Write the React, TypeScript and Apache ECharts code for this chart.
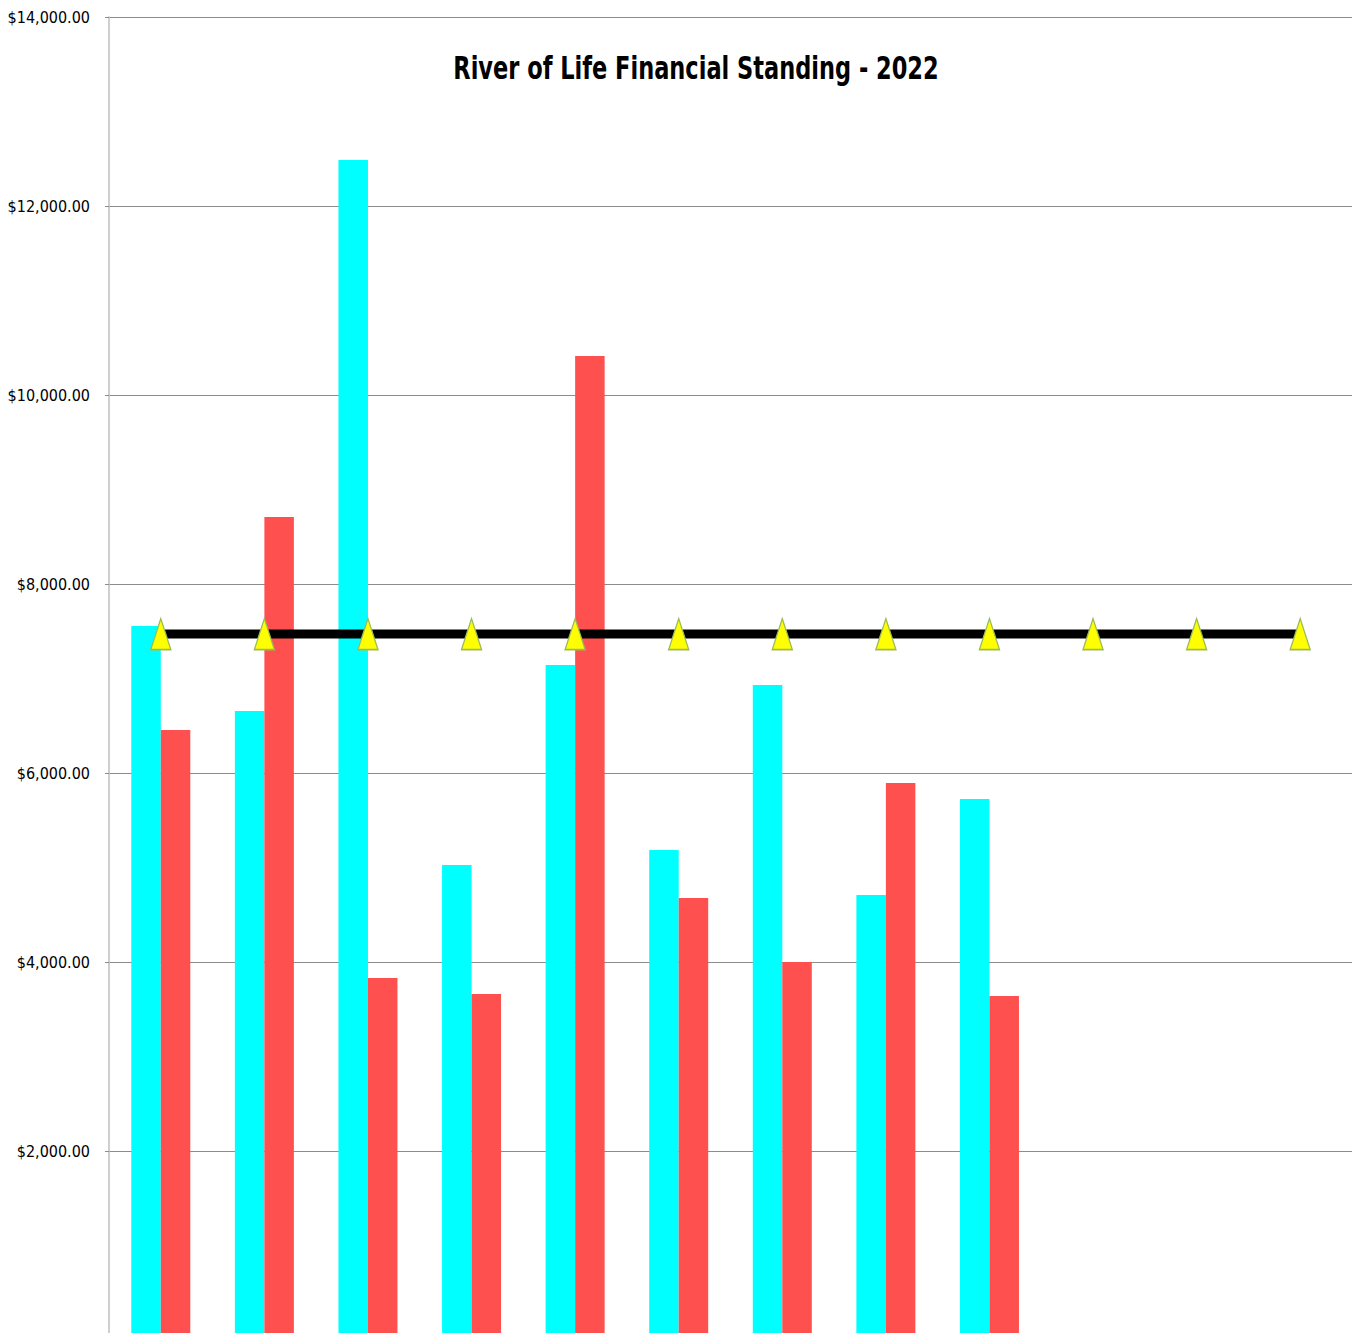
import React, { useEffect, useRef } from "react";
import * as echarts from "echarts";

const categories = ["Jan", "Feb", "Mar", "Apr", "May", "Jun", "Jul", "Aug", "Sep", "Oct", "Nov", "Dec"];
const incomeValues = [7555, 6656, 12487, 5026, 7143, 5185, 6931, 4709, 5725];
const expenseValues = [6455, 8709, 3831, 3661, 10413, 4677, 4000, 5894, 3640];
const budgetValues = [7470, 7470, 7470, 7470, 7470, 7470, 7470, 7470, 7470, 7470, 7470, 7470];
const titleText = "River of Life Financial Standing - 2022";

const FONT = '"DejaVu Sans Condensed", "Liberation Sans Narrow", "Liberation Sans", sans-serif';

export default function App() {
  const ref = useRef<HTMLDivElement>(null);
  useEffect(() => {
    if (!ref.current) return;
    const chart = echarts.init(ref.current, null, { renderer: "svg" });
    chart.setOption({
      animation: false,
      backgroundColor: "#ffffff",
      grid: { left: 109, right: 1, top: 17, bottom: 60, containLabel: false, outerBoundsMode: "none" },
      graphic: [
        {
          type: "text",
          x: 696,
          y: 68,
          scaleY: 1.3,
          style: {
            text: titleText,
            fill: "#000",
            font: `bold 25px ${FONT}`,
            textAlign: "center",
            textVerticalAlign: "middle",
          },
        },
      ],
      xAxis: {
        type: "category",
        data: categories,
        axisLine: { lineStyle: { color: "#bfbfbf" } },
        axisTick: { show: false },
        axisLabel: { color: "#000", fontFamily: FONT, fontSize: 16, margin: 10 },
      },
      yAxis: {
        type: "value",
        min: 0,
        max: 14000,
        interval: 2000,
        axisLine: { show: true, lineStyle: { color: "#bfbfbf", width: 1.5 } },
        axisTick: { show: true, length: 4, lineStyle: { color: "#8c8c8c" } },
        splitLine: { lineStyle: { color: "#8c8c8c", width: 1 } },
        axisLabel: {
          color: "#000",
          fontFamily: FONT,
          fontSize: 16,
          margin: 19,
          formatter: (v: number) =>
            v === 0 ? "$-" : "$" + v.toLocaleString("en-US", { minimumFractionDigits: 2, maximumFractionDigits: 2 }),
        },
      },
      series: [
        {
          name: "Income",
          type: "bar",
          data: incomeValues,
          barWidth: 29.5,
          barGap: "0%",
          itemStyle: { color: "#00ffff" },
        },
        {
          name: "Expenses",
          type: "bar",
          data: expenseValues,
          barWidth: 29.5,
          barGap: "0%",
          itemStyle: { color: "#ff5050" },
        },
        {
          name: "Budget",
          type: "line",
          data: budgetValues,
          z: 5,
          symbol: "triangle",
          symbolSize: [20, 31],
          lineStyle: { color: "#000000", width: 9 },
          itemStyle: { color: "#ffff00", borderColor: "#9bbb59", borderWidth: 1.5 },
        },
      ],
    });
    return () => chart.dispose();
  }, []);
  return (
    <div
      ref={ref}
      style={{ position: "absolute", left: 0, top: 0, width: 1353, height: 1400, background: "#fff" }}
    />
  );
}
